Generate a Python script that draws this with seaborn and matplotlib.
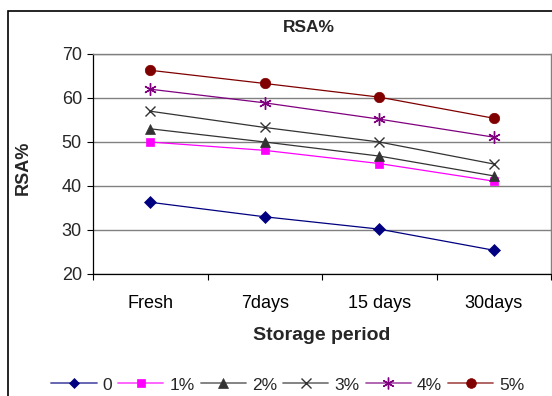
import matplotlib
matplotlib.use("Agg")
import matplotlib.pyplot as plt
from matplotlib.patches import Rectangle
from matplotlib.lines import Line2D
from matplotlib.colors import to_rgb
import seaborn as sns
import pandas as pd

categories = ["Fresh", "7days", "15 days", "30days"]
series_names = ["0", "1%", "2%", "3%", "4%", "5%"]
s0 = [36.3, 33.0, 30.2, 25.4]
s1 = [50.0, 48.1, 45.1, 41.1]
s2 = [53.0, 50.0, 46.8, 42.3]
s3 = [57.0, 53.3, 50.0, 45.0]
s4 = [62.0, 58.9, 55.2, 51.1]
s5 = [66.3, 63.3, 60.2, 55.4]
values = [s0, s1, s2, s3, s4, s5]

colors = ["#000080", "#FF00FF", "#333333", "#333333", "#800080", "#800000"]
markers = ["D", "s", "^", "x", (6, 2, 0), "o"]
msizes = [6, 6, 7, 7, 9, 7.5]

sns.set_theme(style="white")
plt.rcParams["font.family"] = ["Liberation Sans", "DejaVu Sans"]

fig = plt.figure(figsize=(5.52, 3.96), dpi=100)
ax = fig.add_axes([93/552, 1-274/396, (551-93)/552, (274-54)/396])

rows = []
for name, vals in zip(series_names, values):
    for i, v in enumerate(vals):
        rows.append({"series": name, "pos": i, "val": v})
df = pd.DataFrame(rows)


def lighten(c, f=0.35):
    r, g, b = to_rgb(c)
    return (r + (1 - r) * f, g + (1 - g) * f, b + (1 - b) * f)


handles = []
for name, c, m, ms in zip(series_names, colors, markers, msizes):
    sub = df[df["series"] == name]
    sns.lineplot(data=sub, x="pos", y="val", ax=ax, color=c, marker=m,
                 markersize=ms, linewidth=0.9, markeredgecolor=c,
                 markeredgewidth=1.0 if m in ("x", (6, 2, 0)) else 0.5,
                 legend=False, zorder=3)
    handles.append(Line2D([0], [0], color=lighten(c), linewidth=1.3, marker=m,
                          markersize=ms - 0.5, markerfacecolor=c, markeredgecolor=c,
                          markeredgewidth=1.0 if m in ("x", (6, 2, 0)) else 0.5,
                          label=name))

ax.set_xlim(-0.5, 3.5)
ax.set_ylim(20, 70)
ax.set_yticks([20, 30, 40, 50, 60, 70])
ax.set_xticks(range(len(categories)))
ax.set_xticklabels(categories, fontsize=13)
ax.set_xticks([-0.5, 0.5, 1.5, 2.5, 3.5], minor=True)
ax.tick_params(axis="x", which="major", length=0, pad=15, colors="black")
ax.tick_params(axis="x", which="minor", length=4, width=0.8, direction="out", color="black", bottom=True)
ax.tick_params(axis="y", length=4, width=0.8, direction="out", color="black", left=True, labelsize=13, pad=4)
for lab in ax.get_yticklabels():
    lab.set_fontsize(13)
ax.grid(axis="y", color="#808080", linewidth=1.0)
ax.set_axisbelow(True)
for s in ["left", "bottom"]:
    ax.spines[s].set_color("black")
    ax.spines[s].set_linewidth(0.9)
for s in ["top", "right"]:
    ax.spines[s].set_color("#808080")
    ax.spines[s].set_linewidth(1.0)

ax.set_xlabel("Storage period", fontsize=14, fontweight="bold")
ax.set_ylabel("RSA%", fontsize=13, fontweight="bold")
ax.xaxis.set_label_coords((322-93)/(551-93), -(335-274)/(274-54))
ax.xaxis.label.set_va("center")
ax.yaxis.set_label_coords(-(93-23)/(551-93), (274-168)/(274-54))
ax.yaxis.label.set_va("center")

fig.text(309/552, 1-28/396, "RSA%", ha="center", va="center", fontsize=12.5, fontweight="bold")

fig.patches.append(Rectangle((8/552, -0.1), 1.2, 1-11/396+0.1, transform=fig.transFigure,
                             fill=False, edgecolor="black", linewidth=1.2, zorder=0))

leg = fig.legend(handles=handles, loc="center", bbox_to_anchor=(288/552, 1-385/396),
                 ncol=6, frameon=False, fontsize=12.5, handlelength=2.6,
                 handletextpad=0.35, columnspacing=0.35, borderaxespad=0)

fig.savefig("out.png", dpi=100)
